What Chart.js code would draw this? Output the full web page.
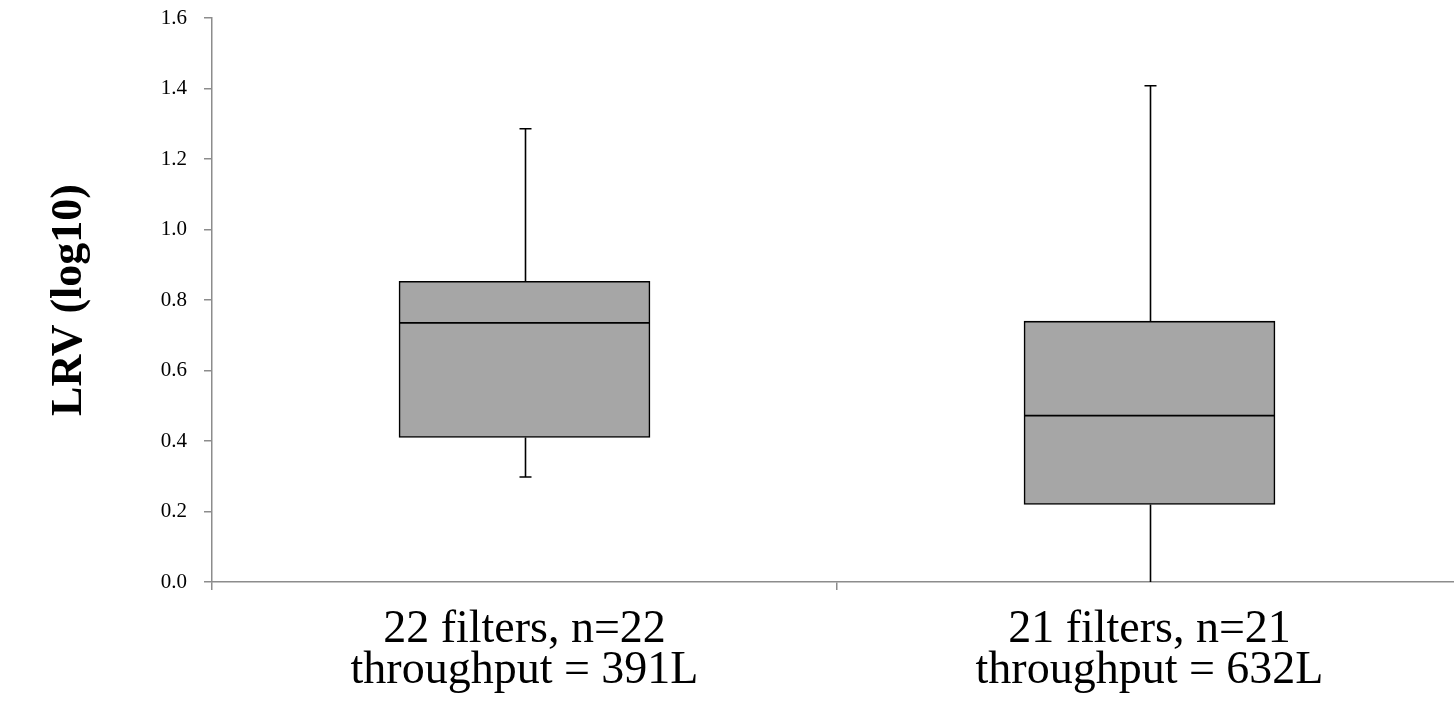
<!DOCTYPE html>
<html>
<head>
<meta charset="utf-8">
<script src="https://cdn.jsdelivr.net/npm/chart.js@4.4.1/dist/chart.umd.min.js"></script>
<style>
html,body{margin:0;padding:0;background:#fff;overflow:hidden;width:1454px;height:705px;}
canvas{display:block;}
</style>
</head>
<body>
<canvas id="c" width="1462" height="705"></canvas>
<script>
const categories = [['22 filters, n=22', 'throughput = 391L'], ['21 filters, n=21', 'throughput = 632L']];
const minValues = [0.298, 0.0];
const q1Values = [0.410, 0.220];
const medianValues = [0.735, 0.472];
const q3Values = [0.853, 0.740];
const maxValues = [1.286, 1.408];
const yTicks = [0.0, 0.2, 0.4, 0.6, 0.8, 1.0, 1.2, 1.4, 1.6];
const yTitle = 'LRV (log10)';

const FONT = "'Liberation Serif', 'DejaVu Serif', serif";
const AXIS = '#8c8c8c';

const boxPlugin = {
  id: 'boxWhiskers',
  afterDatasetsDraw(chart) {
    const ctx = chart.ctx;
    const x = chart.scales.x, y = chart.scales.y;
    const meta = chart.getDatasetMeta(0);
    ctx.save();
    ctx.strokeStyle = '#000';
    ctx.lineWidth = 1.6;
    categories.forEach((c, i) => {
      const cx = Math.round(x.getPixelForValue(i)) + 0.5;
      const el = meta.data[i];
      const half = el.width / 2;
      const pMin = y.getPixelForValue(minValues[i]);
      const pQ1 = y.getPixelForValue(q1Values[i]);
      const pMed = y.getPixelForValue(medianValues[i]);
      const pQ3 = y.getPixelForValue(q3Values[i]);
      const pMax = y.getPixelForValue(maxValues[i]);
      ctx.beginPath();
      ctx.moveTo(cx, pQ3); ctx.lineTo(cx, pMax);
      ctx.moveTo(cx, pQ1); ctx.lineTo(cx, pMin);
      if (minValues[i] > y.min) { ctx.moveTo(cx - 6, pMin); ctx.lineTo(cx + 6, pMin); }
      ctx.moveTo(cx - 6, pMax); ctx.lineTo(cx + 6, pMax);
      ctx.moveTo(el.x - half, pMed); ctx.lineTo(el.x + half, pMed);
      ctx.stroke();
    });
    ctx.restore();
  }
};

new Chart(document.getElementById('c'), {
  type: 'bar',
  data: {
    labels: categories,
    datasets: [{
      data: q1Values.map((q, i) => [q, q3Values[i]]),
      backgroundColor: '#a6a6a6',
      borderColor: '#000',
      borderWidth: 1.6,
      borderSkipped: false,
      barThickness: 251
    }]
  },
  options: {
    responsive: false,
    animation: false,
    events: [],
    layout: { padding: { top: 18, right: 0, left: 0, bottom: 0 } },
    plugins: { legend: { display: false }, tooltip: { enabled: false } },
    scales: {
      x: {
        grid: { display: true, drawOnChartArea: false, drawTicks: true, tickLength: 8, color: AXIS, offset: true, lineWidth: 1.5 },
        border: { display: true, color: AXIS, width: 1.5 },
        ticks: { color: '#000', font: { family: FONT, size: 46, lineHeight: 0.88 }, padding: 20, maxRotation: 0, autoSkip: false },
        afterFit: s => { s.height = 123; s.paddingLeft = 0; s.paddingRight = 0; }
      },
      y: {
        min: 0, max: 1.6,
        afterBuildTicks: s => { s.ticks = yTicks.map(v => ({ value: v })); },
        grid: { display: true, drawOnChartArea: false, drawTicks: true, tickLength: 8, color: AXIS, lineWidth: 1.5 },
        border: { display: true, color: AXIS, width: 1.5 },
        ticks: { color: '#000', font: { family: FONT, size: 21 }, padding: 17, callback: v => Number(v).toFixed(1) },
        title: { display: true, text: yTitle, color: '#000', font: { family: FONT, size: 44, weight: 'bold', lineHeight: 1.0 }, padding: { top: 48, bottom: 0 } },
        afterFit: s => { s.width = 212; s.paddingTop = 0; s.paddingBottom = 0; }
      }
    }
  },
  plugins: [boxPlugin]
});
</script>
</body>
</html>
